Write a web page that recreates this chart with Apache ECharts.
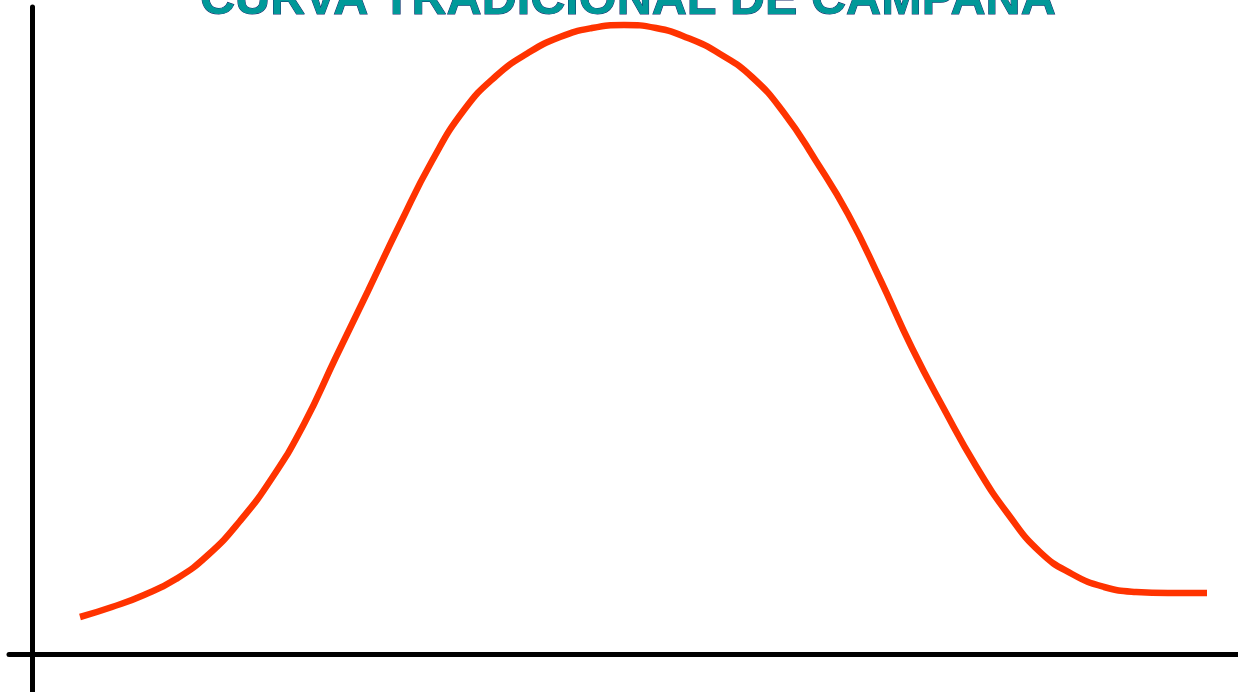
<!DOCTYPE html>
<html>
<head>
<meta charset="utf-8">
<script src="https://cdn.jsdelivr.net/npm/echarts@6/dist/echarts.min.js"></script>
<style>
  html, body { margin: 0; padding: 0; background: #ffffff; }
  #chart { width: 1238px; height: 692px; }
</style>
</head>
<body>
<div id="chart"></div>
<script>
// Bell curve values
const titleText = 'CURVA TRADICIONAL DE CAMPANA';
const xValues = [48, 80, 112, 144, 176, 208, 240, 272, 304, 336, 368, 400, 432, 464, 496, 528, 560, 592, 624, 656, 688, 720, 752, 784, 816, 848, 880, 912, 944, 976, 1008, 1040, 1072, 1104, 1136, 1175];
const yValues = [37, 47, 59, 75, 99, 133, 176, 230, 297, 363, 430, 493, 544, 578, 601, 617, 626, 629, 626, 616, 600, 577, 541, 493, 440, 375, 306, 245, 188, 140, 102, 80, 67, 62, 61, 61];

const points = xValues.map((x, i) => [x, yValues[i]]);

const chart = echarts.init(document.getElementById('chart'));
chart.setOption({
  animation: false,
  backgroundColor: '#ffffff',
  title: {
    text: titleText,
    left: 200,
    top: -24,
    padding: 0,
    textStyle: {
      fontFamily: 'Liberation Sans',
      fontSize: 48.6,
      fontWeight: 'bold',
      color: '#009999',
      textBorderColor: '#1a2a6c',
      textBorderWidth: 1
    }
  },
  grid: { left: 9, right: 0, top: 7, bottom: 0, containLabel: false },
  xAxis: {
    type: 'value',
    min: -23,
    max: 1206,
    axisLine: { show: true, onZero: true, lineStyle: { color: '#000000', width: 5 } },
    axisTick: { show: false },
    axisLabel: { show: false },
    splitLine: { show: false }
  },
  yAxis: {
    type: 'value',
    min: -38,
    max: 647,
    axisLine: { show: true, onZero: true, lineStyle: { color: '#000000', width: 5 } },
    axisTick: { show: false },
    axisLabel: { show: false },
    splitLine: { show: false }
  },
  series: [{
    type: 'line',
    data: points,
    smooth: 0.5,
    symbol: 'none',
    lineStyle: { color: '#ff3300', width: 6.5, cap: 'butt' }
  }]
});
</script>
</body>
</html>
